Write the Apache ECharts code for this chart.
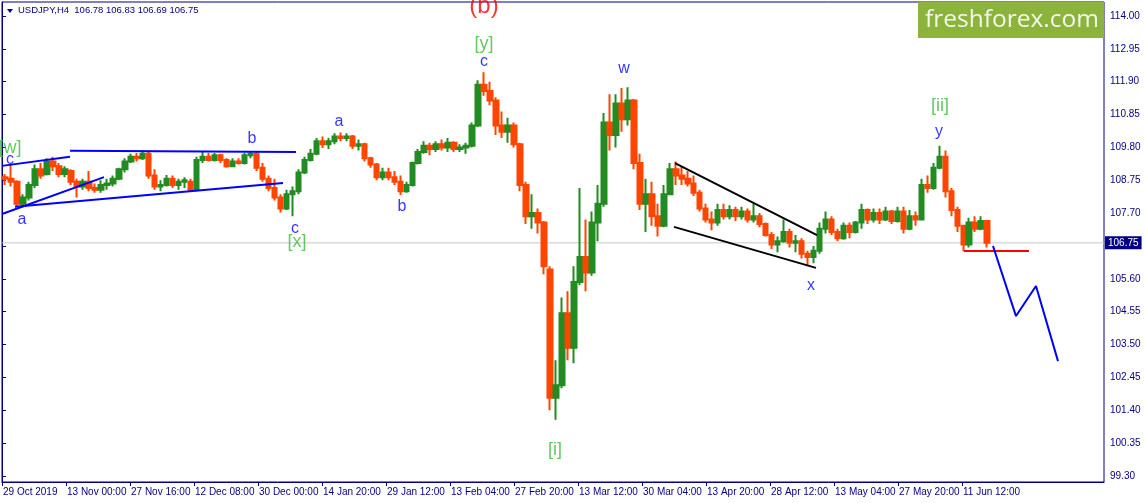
<!DOCTYPE html>
<html><head><meta charset="utf-8">
<script src="https://cdn.jsdelivr.net/npm/echarts@6/dist/echarts.min.js"></script>
<style>html,body{margin:0;padding:0;background:#fff}#c{width:1145px;height:503px}</style>
</head><body><div id="c"></div>
<script>
// ---------- data ----------
const symbolName = 'USDJPY,H4';
const lastBar = [106.78, 106.83, 106.69, 106.75];
const currentPrice = 106.75;
const priceTicks = ['99.30','100.35','101.40','102.45','103.50','104.55','105.60','106.65','107.70','108.75','109.80','110.85','111.90','112.95','114.00'];
const timeLabels = ['29 Oct 2019','13 Nov 00:00','27 Nov 16:00','12 Dec 08:00','30 Dec 00:00','14 Jan 20:00','29 Jan 12:00','13 Feb 04:00','27 Feb 20:00','13 Mar 12:00','30 Mar 04:00','13 Apr 20:00','28 Apr 12:00','13 May 04:00','27 May 20:00','11 Jun 12:00'];
const timeLabelBars = [0,64,128,192,256,320,384,448,512,576,640,704,768,832,896,960]; // H4 bar index of each label
const barsPerCandle = 6;      // one candle = 6 H4 bars (one day)
const barsVisible = 1102;     // H4 bars across the chart window
// daily candles [open, close, low, high]
const ohlc = [
[108.85,108.80,108.60,108.95],[108.80,108.70,108.55,109.24],[108.70,108.00,107.90,108.75],[108.00,108.20,107.88,108.30],
[108.20,108.60,108.10,108.70],[108.60,109.10,108.50,109.25],[109.10,108.90,108.80,109.30],[108.95,109.35,108.90,109.45],
[109.35,109.20,109.05,109.50],[109.20,108.95,108.85,109.30],[108.95,109.10,108.85,109.20],[109.05,108.70,108.60,109.10],
[108.70,108.55,108.20,108.80],[108.55,108.70,108.45,108.80],[108.70,108.50,108.40,109.05],[108.50,108.45,108.35,108.65],
[108.45,108.60,108.35,108.75],[108.60,108.65,108.45,108.80],[108.65,108.80,108.55,108.90],[108.80,109.10,108.75,109.15],
[109.10,109.35,109.00,109.45],[109.35,109.50,109.30,109.60],[109.50,109.45,109.35,109.62],[109.45,109.60,109.40,109.70],
[109.60,108.90,108.80,109.70],[108.90,108.55,108.45,109.10],[108.55,108.60,108.40,108.75],[108.60,108.80,108.55,108.92],
[108.80,108.60,108.50,108.90],[108.60,108.70,108.45,108.80],[108.70,108.75,108.50,108.85],[108.70,108.45,108.38,108.80],
[108.45,109.40,108.40,109.50],[109.40,109.50,109.30,109.65],[109.50,109.40,109.35,109.62],[109.40,109.55,109.35,109.62],
[109.55,109.40,109.30,109.60],[109.40,109.20,109.15,109.45],[109.20,109.35,109.20,109.45],[109.35,109.30,109.25,109.45],
[109.30,109.55,109.25,109.62],[109.55,109.60,109.45,109.68],[109.60,109.15,109.05,109.65],[109.15,108.80,108.70,109.30],
[108.80,108.50,108.40,108.90],[108.50,108.20,108.10,108.80],[108.20,107.85,107.72,108.30],[107.85,108.30,107.80,108.45],
[108.30,108.40,107.60,108.55],[108.40,109.00,108.30,109.10],[109.00,109.40,108.95,109.50],[109.40,109.60,109.35,109.75],
[109.60,110.00,109.55,110.10],[110.00,109.90,109.78,110.15],[109.90,110.00,109.75,110.10],[110.00,110.15,109.90,110.25],
[110.15,110.10,110.00,110.28],[110.10,110.15,110.00,110.25],[110.15,109.85,109.75,110.20],[109.85,109.90,109.70,110.05],
[109.90,109.45,109.35,109.95],[109.45,109.25,109.15,109.50],[109.25,108.85,108.75,109.30],[108.85,109.00,108.75,109.15],
[109.00,108.85,108.75,109.15],[108.85,108.70,108.60,109.05],[108.70,108.40,108.28,108.90],[108.40,108.60,108.35,108.70],
[108.60,109.30,108.55,109.35],[109.30,109.65,109.25,109.75],[109.65,109.85,109.60,110.00],[109.85,109.75,109.55,109.95],
[109.75,109.90,109.65,110.00],[109.90,109.80,109.70,110.05],[109.80,109.95,109.65,110.10],[109.95,109.75,109.65,110.00],
[109.75,109.80,109.65,109.90],[109.80,109.85,109.60,109.95],[109.85,110.50,109.80,110.60],[110.50,111.80,110.45,111.95],
[111.80,111.60,111.45,112.20],[111.60,111.30,111.15,111.90],[111.30,110.50,110.20,111.40],[110.50,110.30,110.10,110.95],
[110.30,110.50,109.95,110.75],[110.50,109.90,109.80,110.60],[109.90,108.60,108.40,109.95],[108.60,107.60,107.35,108.70],
[107.60,107.70,107.20,108.30],[107.70,107.40,107.05,107.85],[107.40,106.00,105.75,107.45],[105.90,101.80,101.40,106.00],
[101.80,102.20,101.10,103.00],[102.20,104.50,102.10,105.00],[104.50,103.40,103.00,105.20],[103.40,105.50,102.90,106.00],
[105.50,106.30,105.40,108.50],[106.30,105.80,105.20,107.50],[105.80,107.40,105.70,107.75],[107.40,108.00,106.80,108.60],
[108.00,110.60,107.90,110.90],[110.60,110.20,109.70,111.50],[110.20,111.20,109.80,111.50],[111.20,110.70,110.30,111.70],
[110.70,111.30,110.50,111.72],[111.30,109.30,109.10,111.35],[109.30,108.00,107.80,109.60],[108.00,108.30,107.10,108.80],
[108.30,107.60,107.30,108.70],[107.60,107.30,106.95,108.00],[107.30,108.30,107.25,108.60],[108.30,109.10,108.30,109.30],
[109.10,108.90,108.60,109.35],[108.90,108.80,108.60,109.20],[108.80,108.65,108.55,109.05],[108.65,108.35,108.25,108.90],
[108.35,107.85,107.75,108.45],[107.85,107.50,107.40,108.00],[107.50,107.40,107.15,107.75],[107.40,107.80,107.30,108.00],
[107.80,107.60,107.50,108.00],[107.60,107.80,107.50,107.95],[107.80,107.60,107.45,107.90],[107.60,107.75,107.50,107.90],
[107.75,107.50,107.40,107.85],[107.50,107.60,107.40,108.00],[107.60,107.35,107.25,107.70],[107.35,107.00,106.95,107.40],
[107.00,106.70,106.55,107.10],[106.70,106.80,106.45,106.95],[106.80,107.10,106.75,107.50],[107.10,106.75,106.60,107.20],
[106.75,106.80,106.45,107.00],[106.80,106.40,106.25,106.90],[106.40,106.30,106.00,106.50],[106.30,106.50,106.10,106.65],
[106.50,107.20,106.40,107.40],[107.20,107.50,107.05,107.75],[107.50,107.10,107.00,107.60],[107.10,106.90,106.80,107.20],
[106.90,107.30,106.85,107.40],[107.30,107.10,106.90,107.40],[107.10,107.40,107.05,107.45],[107.40,107.80,107.20,108.00],
[107.80,107.50,107.35,107.85],[107.50,107.70,107.40,107.85],[107.70,107.50,107.35,107.85],[107.50,107.75,107.45,107.90],
[107.75,107.45,107.35,107.80],[107.45,107.75,107.40,107.90],[107.75,107.20,107.05,107.90],[107.20,107.60,107.15,107.80],
[107.60,107.50,107.30,107.75],[107.50,108.60,107.50,108.80],[108.60,108.50,108.35,108.90],[108.50,109.15,108.45,109.30],
[109.15,109.50,109.10,109.85],[109.50,108.40,108.20,109.70],[108.40,107.80,107.60,108.50],[107.80,107.30,107.10,107.90],
[107.30,106.70,106.48,107.30],[106.70,107.40,106.60,107.55],[107.40,107.20,107.10,107.60],[107.20,107.45,107.15,107.60],
[107.45,106.75,106.60,107.45]
];
// analysis drawings, points as [H4 bar index, price]
const blueLines = [
  [[0,109.21],[68,109.50]],
  [[68,109.69],[294,109.65]],
  [[0,107.67],[102,108.85]],
  [[13,107.90],[281,108.66]]
];
const wedgeLines = [
  [[673,109.30],[815,107.00]],
  [[672,107.26],[814,105.95]]
];
const levelLine = [[962,106.49],[1027,106.49]];
const projection = [[991,106.65],[1014,104.41],[1034,105.37],[1056,102.97]];
const waveNames   = ['[w]','c','a','b','c','[x]','a','b','(b)','[y]','c','[i]','w','x','[ii]','y'];
const waveDegrees = ['minor','minute','minute','minute','minute','minor','minute','minute','intermediate','minor','minute','minor','minute','minute','minor','minute'];
const waveAnchors = [[8,109.78],[8,109.40],[20,107.48],[250,110.07],[293,107.22],[295,106.78],[337,110.61],[400,107.90],
                     [482,114.30],[482,113.10],[482,112.53],[553,100.13],[622,112.31],[809,105.37],[938,111.12],[937,110.29]];

// ---------- styles ----------
const NAVY = '#000080';
const UP = '#228B22', DOWN = '#FF4500';
const degreeStyle = {
  intermediate: {color:'#FF0000', fontSize:24},
  minor: {color:'#3CBB3C', fontSize:18},
  minute: {color:'#0000FF', fontSize:16}
};
const yMin = 99.107, yMax = 114.447;
const nCat = Math.ceil(barsVisible / barsPerCandle);
const cats = Array.from({length:nCat}, (_, i) => String(i));

function lineSeries(pts, color, width, z) {
  return {type:'line', xAxisIndex:1, yAxisIndex:0, data:pts, showSymbol:false, symbol:'none',
    lineStyle:{color:color, width:width}, z:z, silent:true, clip:true};
}

const chart = echarts.init(document.getElementById('c'), null, {renderer:'canvas'});
const series = [
  {type:'line', xAxisIndex:1, yAxisIndex:0, data:[[0,currentPrice],[barsVisible,currentPrice]],
   showSymbol:false, symbol:'none', lineStyle:{color:'#C8C8C8', width:1}, z:1, silent:true,
   endLabel:{show:true, formatter:currentPrice.toFixed(2), color:'#FFFFFF', backgroundColor:NAVY,
     padding:[2,3,1,3], fontSize:10, distance:1, fontFamily:'Liberation Sans'}},
  {type:'candlestick', xAxisIndex:0, yAxisIndex:0, data:ohlc, barWidth:5, z:2, silent:true,
   itemStyle:{color:UP, color0:DOWN, borderColor:UP, borderColor0:DOWN, borderWidth:2}}
];
blueLines.forEach(l => series.push(lineSeries(l, '#0000FF', 2, 3)));
wedgeLines.forEach(l => series.push(lineSeries(l, '#000000', 2, 3)));
series.push(lineSeries(levelLine, '#FF0000', 2, 3));
series.push(lineSeries(projection, '#0000FF', 2, 3));
series.push({
  type:'scatter', xAxisIndex:1, yAxisIndex:0, symbolSize:1, z:4, silent:true, clip:false,
  itemStyle:{color:'rgba(0,0,0,0)'},
  data: waveNames.map((n, i) => ({
    value: waveAnchors[i],
    label: {show:true, position:'inside', formatter:n, color:degreeStyle[waveDegrees[i]].color,
      fontSize:degreeStyle[waveDegrees[i]].fontSize, fontFamily:'Liberation Sans', align:'center', verticalAlign:'middle'}
  }))
});

chart.setOption({
  animation:false,
  backgroundColor:'#FFFFFF',
  textStyle:{fontFamily:'Liberation Sans'},
  grid:{left:2, right:41, top:2, bottom:21, show:true, borderColor:NAVY, borderWidth:1, backgroundColor:'#FFFFFF', containLabel:false, outerBoundsMode:'none'},
  xAxis:[
    {type:'category', position:'top', data:cats, boundaryGap:true, show:false},
    {type:'value', position:'bottom', min:0, max:barsVisible,
     axisLine:{show:true, lineStyle:{color:NAVY, width:1}},
     axisTick:{show:true, customValues:timeLabelBars, length:4, lineStyle:{color:NAVY}},
     axisLabel:{show:true, customValues:timeLabelBars, formatter:v => timeLabels[timeLabelBars.indexOf(v)] || '',
       align:'left', margin:5, padding:[0,0,0,1], color:NAVY, fontSize:10},
     splitLine:{show:false}}
  ],
  yAxis:[{type:'value', position:'right', min:yMin, max:yMax, scale:true,
    axisLine:{show:true, lineStyle:{color:NAVY, width:1}},
    axisTick:{show:true, customValues:priceTicks.map(Number), length:4, lineStyle:{color:NAVY}},
    axisLabel:{show:true, customValues:priceTicks.map(Number), formatter:v => v.toFixed(2), margin:6, color:NAVY, fontSize:10},
    splitLine:{show:false}}],
  series: series,
  graphic:[
    {type:'polygon', z:100, shape:{points:[[7,9],[13,9],[10,13]]}, style:{fill:NAVY}},
    {type:'text', z:100, x:18, y:10, style:{text:symbolName + '  ' + lastBar.map(v => v.toFixed(2)).join(' '),
      fill:NAVY, fontSize:9.5, fontFamily:'Liberation Sans', verticalAlign:'middle', align:'left'}},
    {type:'rect', z:100, shape:{x:918, y:2, width:186, height:36}, style:{fill:'#8CB43C'}},
    {type:'text', z:101, x:1012, y:20, style:{text:'freshforex.com', fill:'#F4F8EC', fontSize:24.5,
      fontFamily:'Open Sans', align:'center', verticalAlign:'middle'}}
  ]
});
</script></body></html>
